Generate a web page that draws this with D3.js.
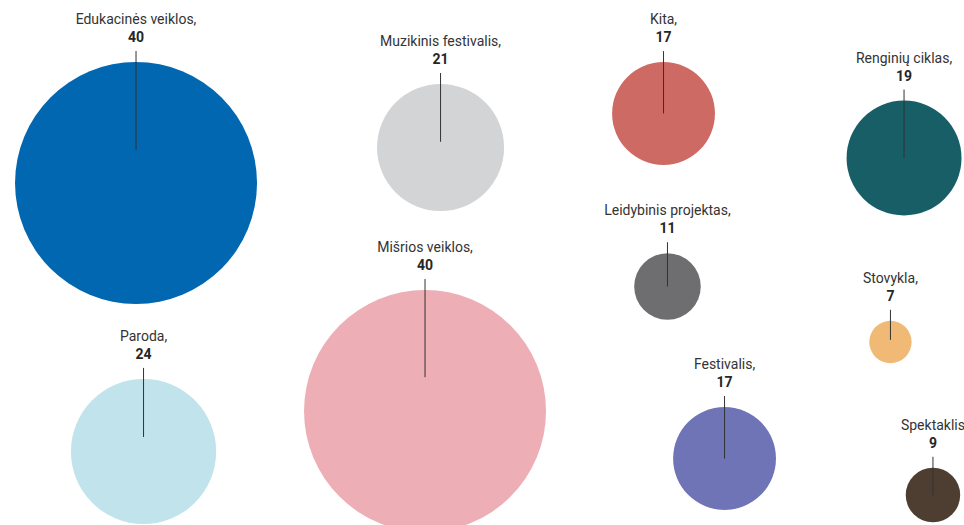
<!DOCTYPE html>
<html>
<head>
<meta charset="utf-8">
<script src="https://cdn.jsdelivr.net/npm/d3@7"></script>
<style>
  html, body { margin: 0; padding: 0; background: #ffffff; overflow: hidden; }
  svg { display: block; }
</style>
</head>
<body>
<svg id="chart" width="964" height="525"></svg>
<script>
// ---- data ----
const categories = ["Edukacinės veiklos,", "Muzikinis festivalis,", "Kita,", "Renginių ciklas,",
  "Mišrios veiklos,", "Leidybinis projektas,", "Stovykla,", "Paroda,", "Festivalis,", "Spektaklis"];
const values = [40, 21, 17, 19, 40, 11, 7, 24, 17, 9];

// ---- layout (bubble centres as fractions of the canvas) ----
const layoutX = [0.1411, 0.4570, 0.6883, 0.9378, 0.4409, 0.6924, 0.9237, 0.1489, 0.7516, 0.9678];
const layoutY = [0.3486, 0.2810, 0.2162, 0.3010, 0.7829, 0.5457, 0.6514, 0.8600, 0.8733, 0.9429];
const leadDepth = [0.727, 0.91, 1, 1, 0.72, 1, 0.9, 0.8, 1, 1];
const colors = ["#0067b0", "#d3d4d6", "#cd6a63", "#175e67", "#edaeb5", "#6e6e70",
  "#f0b975", "#c0e3ec", "#6e74b6", "#4e3e32"];

const W = 964, H = 525;
const svg = d3.select("#chart");
const x = d3.scaleLinear().domain([0, 1]).range([0, W]);
const y = d3.scaleLinear().domain([0, 1]).range([0, H]);
const r = d3.scaleLinear().domain([0, 40]).range([0, 121]);

const data = categories.map((c, i) => ({
  name: c, value: values[i], cx: x(layoutX[i]), cy: y(layoutY[i]),
  rad: r(values[i]), depth: leadDepth[i], color: colors[i]
}));

const g = svg.selectAll("g.bubble").data(data).join("g").attr("class", "bubble");

g.append("circle")
  .attr("cx", d => d.cx)
  .attr("cy", d => d.cy)
  .attr("r", d => d.rad)
  .attr("fill", d => d.color);

g.append("line")
  .attr("x1", d => d.cx).attr("x2", d => d.cx)
  .attr("y1", d => d.cy - d.rad - 11)
  .attr("y2", d => d.cy - d.rad + d.rad * d.depth)
  .attr("stroke", "#333")
  .attr("stroke-width", 1);

g.append("text")
  .attr("x", d => d.cx)
  .attr("y", d => d.cy - d.rad - 38)
  .attr("text-anchor", "middle")
  .attr("font-family", "Roboto, 'Noto Sans', sans-serif")
  .attr("font-size", 14)
  .attr("fill", "#333")
  .text(d => d.name);

g.append("text")
  .attr("x", d => d.cx)
  .attr("y", d => d.cy - d.rad - 20)
  .attr("text-anchor", "middle")
  .attr("font-family", "Roboto, 'Noto Sans', sans-serif")
  .attr("font-size", 14)
  .attr("font-weight", "bold")
  .attr("fill", "#262626")
  .text(d => d.value);
</script>
</body>
</html>
